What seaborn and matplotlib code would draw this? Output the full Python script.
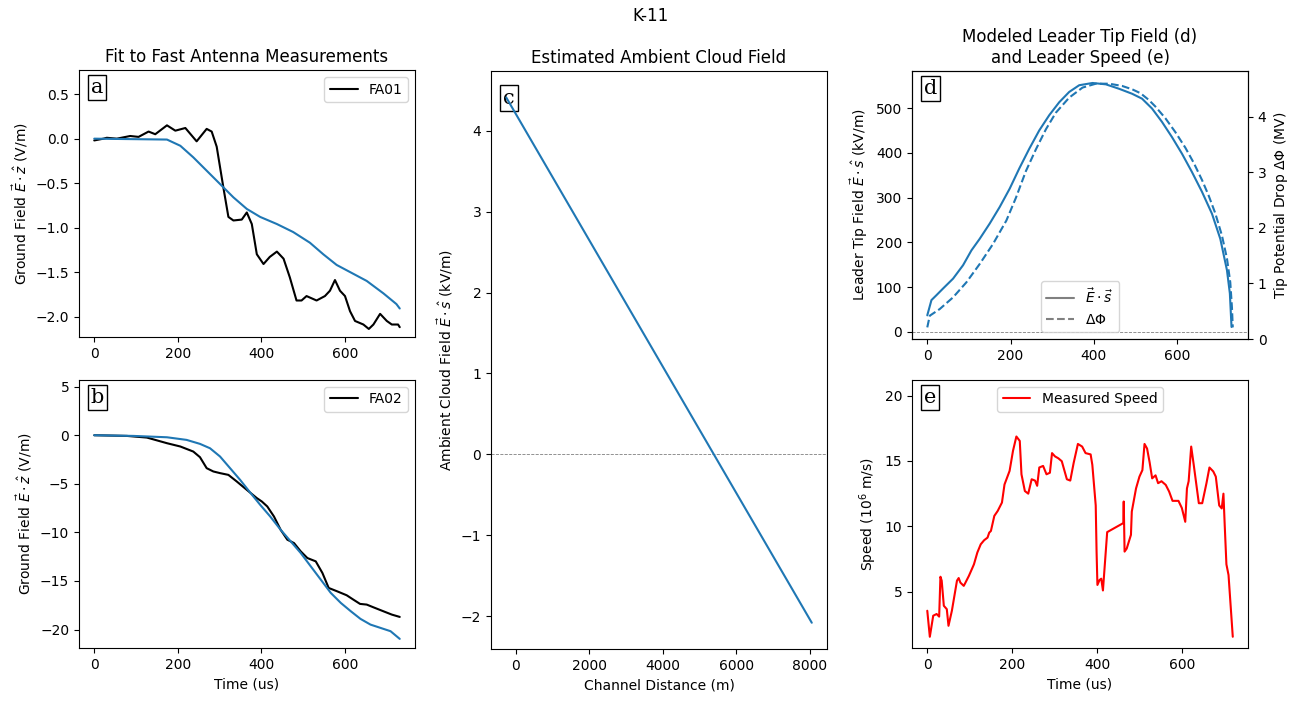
import matplotlib
matplotlib.use("Agg")
import matplotlib.pyplot as plt
from matplotlib.lines import Line2D
import seaborn as sns

# panel a: fast antenna FA01 and model fit (time in us, field in V/m)
fa01_t = [0, 22, 30, 54, 86, 106, 130, 146, 174, 194, 218, 245, 269, 281, 293, 309, 321, 333, 353, 365,
          377, 389, 405, 420, 437, 453, 468, 484, 496, 508, 532, 552, 564, 576, 588, 600, 612, 624, 644, 657,
          668, 684, 700, 712, 727, 731]
fa01_e = [-0.02, 0.0, 0.01, 0.0, 0.03, 0.02, 0.08, 0.05, 0.15, 0.09, 0.12, -0.03, 0.11, 0.08, -0.09, -0.55,
          -0.88, -0.92, -0.91, -0.83, -0.96, -1.30, -1.41, -1.33, -1.27, -1.35, -1.56, -1.82, -1.82, -1.77,
          -1.82, -1.77, -1.71, -1.59, -1.71, -1.77, -1.94, -2.05, -2.09, -2.14, -2.09, -1.97, -2.05, -2.09,
          -2.09, -2.12]
fit_a_t = [0, 174, 206, 237, 269, 301, 333, 365, 397, 437, 476, 516, 548, 580, 612, 652, 692, 723, 731]
fit_a_e = [0.0, -0.01, -0.08, -0.21, -0.36, -0.51, -0.66, -0.79, -0.88, -0.96, -1.05, -1.17, -1.30, -1.42,
           -1.50, -1.60, -1.74, -1.86, -1.91]

# panel b: FA02 and model fit
fa02_t = [0, 78, 126, 174, 206, 237, 253, 269, 285, 301, 321, 341, 365, 389, 401, 414, 430, 446, 462, 478,
          494, 510, 530, 546, 561, 581, 604, 620, 636, 652, 668, 692, 712, 731]
fa02_e = [0.0, -0.07, -0.24, -0.82, -1.16, -1.68, -2.26, -3.39, -3.73, -3.90, -4.08, -4.76, -5.62, -6.47,
          -6.82, -7.33, -8.36, -9.73, -10.75, -11.10, -11.95, -12.64, -12.98, -14.18, -15.72, -16.06,
          -16.47, -16.92, -17.36, -17.43, -17.71, -18.12, -18.46, -18.70]
fit_b_t = [0, 94, 174, 221, 253, 277, 301, 325, 349, 373, 397, 421, 446, 470, 494, 518, 542, 566, 590, 614,
           637, 661, 685, 709, 731]
fit_b_e = [0.0, -0.07, -0.21, -0.48, -0.89, -1.34, -2.19, -3.39, -4.59, -5.89, -7.16, -8.36, -9.73, -10.92,
           -12.12, -13.49, -14.86, -16.23, -17.26, -18.12, -18.90, -19.49, -19.83, -20.17, -20.96]

# panel c: ambient cloud field along the channel
channel_dist = [-260, 8060]
ambient_field = [4.41, -2.08]

# panel d: leader tip field (kV/m) and tip potential drop (MV)
tip_t = [0, 10, 22, 38, 62, 86, 106, 126, 150, 174, 198, 221, 245, 269, 293, 317, 341, 365, 397, 429,
         461, 492, 516, 540, 564, 588, 612, 636, 660, 684, 704, 720, 727, 731]
tip_field = [37, 71, 82, 97, 119, 149, 182, 208, 242, 279, 320, 365, 409, 450, 484, 513, 536, 551, 556, 553,
             543, 532, 521, 499, 469, 435, 398, 357, 313, 264, 208, 138, 86, 11]
pot_t = [0, 6, 30, 62, 94, 126, 158, 190, 213, 237, 261, 285, 309, 341, 373, 405, 437, 468, 492, 512,
         532, 548, 572, 596, 620, 640, 660, 676, 692, 708, 720, 728, 732, 734]
pot_mv = [0.21, 0.42, 0.54, 0.75, 1.02, 1.35, 1.71, 2.13, 2.54, 3.02, 3.41, 3.77, 4.07, 4.34, 4.52, 4.59,
          4.59, 4.55, 4.49, 4.42, 4.30, 4.18, 3.97, 3.72, 3.44, 3.17, 2.86, 2.58, 2.26, 1.86, 1.45, 1.02,
          0.57, 0.21]

# panel e: measured leader speed (1e6 m/s)
speed_t = [0, 6, 14, 22, 28, 31, 34, 39, 46, 50, 58, 70, 74, 78, 86, 90, 98, 106, 110, 118,
           126, 134, 142, 146, 150, 158, 166, 176, 182, 194, 202, 210, 218, 222, 230, 238, 246, 254, 259, 264,
           273, 281, 289, 294, 301, 309, 317, 329, 337, 345, 355, 365, 373, 385, 389, 397, 399, 401, 406, 410,
           414, 424, 462, 463, 465, 470, 480, 482, 492, 500, 507, 512, 518, 524, 530, 538, 544, 552, 562, 570,
           578, 592, 600, 608, 612, 616, 622, 628, 640, 648, 658, 665, 674, 680, 688, 694, 698, 701, 705, 710,
           720]
speed = [3.55, 1.56, 3.17, 3.30, 3.10, 6.15, 5.85, 3.93, 3.67, 2.40, 3.55, 5.85, 6.05, 5.70, 5.45, 5.70,
         6.21, 6.80, 7.10, 8.00, 8.63, 8.94, 9.14, 9.52, 9.65, 10.80, 11.18, 11.82, 13.20, 14.24, 15.77, 16.87,
         16.53, 13.98, 12.70, 12.50, 13.60, 13.50, 13.10, 14.50, 14.62, 13.98, 14.10, 15.60, 15.35, 15.20,
         14.98, 13.60, 13.50, 14.85, 16.30, 16.10, 15.60, 15.50, 14.70, 11.60, 8.07, 5.52, 5.90, 6.00, 5.10,
         9.56, 10.25, 11.90, 8.07, 8.30, 9.35, 11.13, 12.90, 13.80, 14.30, 16.30, 15.95, 14.90, 13.67, 13.90,
         13.30, 13.45, 13.17, 12.66, 11.95, 11.95, 11.40, 10.35, 12.90, 13.45, 16.10, 14.70, 11.77, 11.77,
         13.30, 14.50, 14.20, 13.80, 11.60, 11.37, 12.50, 10.10, 7.10, 6.28, 1.56]

BLUE = "#1f77b4"

sns.set_style("ticks", rc={
    "axes.edgecolor": "black", "text.color": "black", "axes.labelcolor": "black",
    "xtick.color": "black", "ytick.color": "black",
})
plt.rcParams["font.family"] = ["DejaVu Sans"]


def panel_letter(ax, letter):
    # boxed letter sits under the curves (line in panel c runs over it)
    ax.text(0.035, 0.97, letter, transform=ax.transAxes, ha="left", va="top",
            fontsize=15, family="DejaVu Serif", zorder=1,
            bbox=dict(boxstyle="square,pad=0.15", fc="white", ec="black", lw=1))


def line(ax, x, y, **kw):
    sns.lineplot(x=x, y=y, ax=ax, sort=False, estimator=None, linewidth=1.5, zorder=3, **kw)


fig = plt.figure(figsize=(13.01, 7.02), dpi=100)
ax_a = fig.add_axes([0.0607, 0.520, 0.2583, 0.380])
ax_b = fig.add_axes([0.0607, 0.0769, 0.2583, 0.382])
ax_c = fig.add_axes([0.3774, 0.0755, 0.2583, 0.823])
ax_d = fig.add_axes([0.7010, 0.517, 0.2583, 0.382])
ax_e = fig.add_axes([0.7010, 0.0769, 0.2583, 0.382])

# a
line(ax_a, fa01_t, fa01_e, color="black", label="FA01")
line(ax_a, fit_a_t, fit_a_e, color=BLUE)
ax_a.set_ylim(-2.23, 0.77)
ax_a.set_ylabel(r"Ground Field $\vec{E}\cdot\hat{z}$ (V/m)")
ax_a.set_title("Fit to Fast Antenna Measurements")
ax_a.legend(loc="upper right")
panel_letter(ax_a, "a")

# b
line(ax_b, fa02_t, fa02_e, color="black", label="FA02")
line(ax_b, fit_b_t, fit_b_e, color=BLUE)
ax_b.set_ylim(-21.9, 5.7)
ax_b.set_ylabel(r"Ground Field $\vec{E}\cdot\hat{z}$ (V/m)")
ax_b.set_xlabel("Time (us)")
ax_b.legend(loc="upper right")
panel_letter(ax_b, "b")

# c
line(ax_c, channel_dist, ambient_field, color=BLUE)
ax_c.axhline(0, color="gray", ls="--", lw=0.6)
ax_c.set_ylabel(r"Ambient Cloud Field $\vec{E}\cdot\hat{s}$ (kV/m)")
ax_c.set_xlabel("Channel Distance (m)")
ax_c.set_title("Estimated Ambient Cloud Field")
panel_letter(ax_c, "c")

# d with twin axis for potential drop
line(ax_d, tip_t, tip_field, color=BLUE)
ax_d.axhline(0, color="gray", ls="--", lw=0.6)
ax_d.set_ylim(-16, 583)
ax_d.set_ylabel(r"Leader Tip Field $\vec{E}\cdot\hat{s}$ (kV/m)")
ax_d.set_title("Modeled Leader Tip Field (d)\nand Leader Speed (e)")
ax_d2 = ax_d.twinx()
line(ax_d2, pot_t, pot_mv, color=BLUE, linestyle="--")
ax_d2.set_ylim(0, 4.82)
ax_d2.set_ylabel(r"Tip Potential Drop $\Delta\Phi$ (MV)")
handles = [Line2D([], [], color="gray", lw=1.5),
           Line2D([], [], color="gray", lw=1.5, ls="--")]
ax_d2.legend(handles, [r"$\vec{E}\cdot\vec{s}$", r"$\Delta\Phi$"], loc="lower center")
panel_letter(ax_d2, "d")

# e
line(ax_e, speed_t, speed, color="red", label="Measured Speed")
ax_e.set_ylim(0.7, 21.2)
ax_e.set_yticks([5, 10, 15, 20])
ax_e.set_ylabel(r"Speed ($10^6$ m/s)")
ax_e.set_xlabel("Time (us)")
ax_e.legend(loc="upper center")
panel_letter(ax_e, "e")

for ax in (ax_a, ax_b, ax_d, ax_e):
    ax.set_xticks([0, 200, 400, 600])

fig.suptitle("K-11", y=0.99, fontsize=12)
fig.savefig("out.png", dpi=100)
